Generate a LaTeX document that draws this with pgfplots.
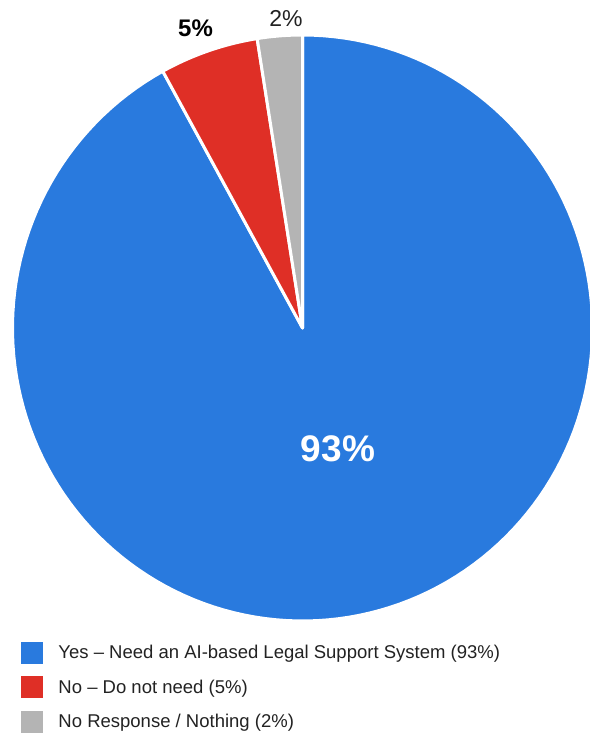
\documentclass[border=0pt]{standalone}
\usepackage{pgfplots}
\pgfplotsset{compat=1.18}
\usepackage{fontspec}
\setmainfont{Liberation Sans}
\definecolor{pieblue}{RGB}{41,122,222}
\definecolor{piered}{RGB}{223,47,38}
\definecolor{piegray}{RGB}{180,180,180}
\definecolor{legtext}{RGB}{34,34,34}
% slice values (percent of the circle)
\def\pYes{92}
\def\pNo{5.5}
\def\pNR{2.5}
% geometry (axis units = bp)
\def\cx{302.5}
\def\cy{408}
\def\rx{290}
\def\ry{293}
\pgfmathsetmacro{\aA}{90+3.6*\pNR}
\pgfmathsetmacro{\aB}{90+3.6*(\pNR+\pNo)}
\begin{document}
\begin{tikzpicture}
\useasboundingbox (0,0) rectangle (590bp,736bp);
\begin{axis}[
  at={(0,0)}, anchor=south west,
  scale only axis, width=590bp, height=736bp,
  xmin=0, xmax=590, ymin=0, ymax=736,
  hide axis, clip=true,
  legend cell align=left,
  legend image code/.code={\fill[#1,draw=none] (0bp,-11bp) rectangle (22bp,11bp); \path (36bp,0bp);},
  legend style={at={(axis cs:21,94)}, anchor=north west, draw=none, fill=none,
    inner sep=0pt, outer sep=0pt,
    font=\fontsize{18.5bp}{22bp}\selectfont, text=legtext,
    row sep=12.5bp,
    nodes={inner sep=0pt}},
]
\addplot[fill=pieblue, draw=white, line width=3bp, line join=round,
  domain=\aB:450, samples=160, variable=\t]
  ({\cx+\rx*cos(\t)},{\cy+\ry*sin(\t)}) -- (axis cs:\cx,\cy) -- cycle;
\addlegendentry{Yes – Need an AI-based Legal Support System (93\%)}
\addplot[fill=piered, draw=white, line width=3bp, line join=round,
  domain=\aA:\aB, samples=20, variable=\t]
  ({\cx+\rx*cos(\t)},{\cy+\ry*sin(\t)}) -- (axis cs:\cx,\cy) -- cycle;
\addlegendentry{No – Do not need (5\%)}
\addplot[fill=piegray, draw=white, line width=3bp, line join=round,
  domain=90:\aA, samples=10, variable=\t]
  ({\cx+\rx*cos(\t)},{\cy+\ry*sin(\t)}) -- (axis cs:\cx,\cy) -- cycle;
\addlegendentry{No Response / Nothing (2\%)}
\node[anchor=base, text=white, font=\fontsize{37bp}{40bp}\selectfont\bfseries, inner sep=0pt] at (axis cs:338,274) {93\%};
\node[anchor=base, text=black, font=\fontsize{24bp}{26bp}\selectfont\bfseries, inner sep=0pt] at (axis cs:195.5,699) {5\%};
\node[anchor=base, text=legtext, font=\fontsize{23bp}{26bp}\selectfont, inner sep=0pt] at (axis cs:286,709) {2\%};
\end{axis}
\end{tikzpicture}
\end{document}
